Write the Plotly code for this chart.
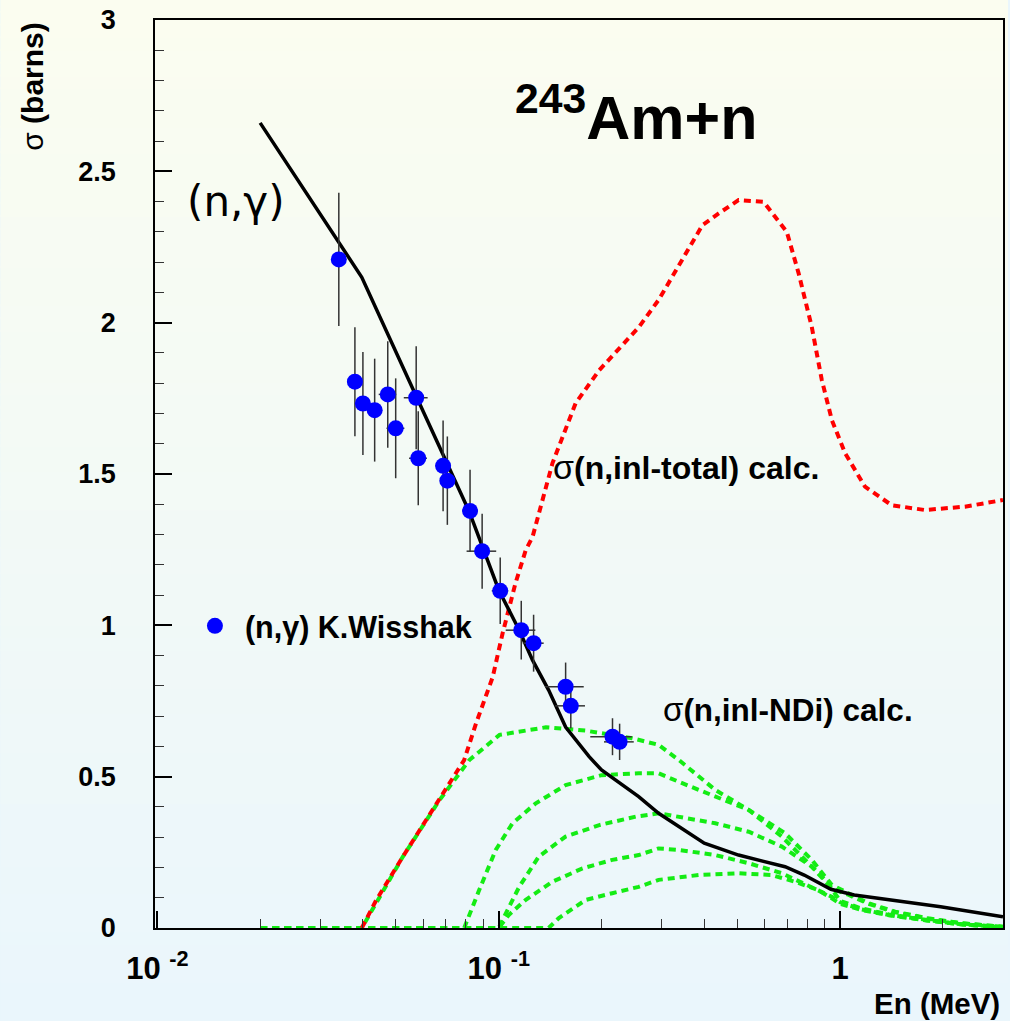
import plotly.graph_objects as go

# ---------------- data ----------------
# experimental (n,gamma) points, K.Wisshak
E_exp = [0.034, 0.0379, 0.040, 0.0433, 0.0473, 0.0499, 0.0573, 0.0581, 0.0687, 0.0707,
         0.0824, 0.0894, 0.101, 0.1164, 0.1265, 0.157, 0.1626, 0.2154, 0.226]
sig_exp = [2.209, 1.805, 1.733, 1.711, 1.763, 1.651, 1.752, 1.552, 1.527, 1.478,
           1.378, 1.245, 1.114, 0.984, 0.941, 0.797, 0.734, 0.632, 0.615]
dsig_exp = [0.22, 0.18, 0.17, 0.17, 0.176, 0.165, 0.17, 0.155, 0.15, 0.146,
            0.136, 0.124, 0.11, 0.097, 0.094, 0.08, 0.074, 0.061, 0.06]
dE_exp = [0.0017, 0.0019, 0.002, 0.0022, 0.0028, 0.003, 0.0046, 0.0035, 0.0034, 0.0035,
          0.0041, 0.0089, 0.0056, 0.0116, 0.0089, 0.0204, 0.0163, 0.030, 0.0226]

# calculated (n,gamma)
E_cap = [0.02, 0.0397, 0.0574, 0.082, 0.1, 0.1148, 0.1256, 0.14, 0.157, 0.184, 0.2,
         0.257, 0.294, 0.4, 0.504, 0.69, 0.785, 0.94, 1.1, 1.97, 3.0]
sig_cap = [2.66, 2.15, 1.755, 1.375, 1.117, 0.984, 0.885, 0.786, 0.664, 0.566, 0.522,
           0.434, 0.379, 0.28, 0.241, 0.2025, 0.175, 0.128, 0.109, 0.07, 0.037]

# calculated total inelastic
E_inl = [0.0397, 0.0438, 0.0524, 0.0718, 0.0792, 0.0858, 0.096, 0.1026, 0.112, 0.12,
         0.1256, 0.1437, 0.168, 0.197, 0.2576, 0.294, 0.345, 0.395, 0.441, 0.504,
         0.597, 0.698, 0.756, 0.826, 0.884, 0.946, 1.035, 1.183, 1.416, 1.771, 2.32, 3.0]
sig_inl = [0.0, 0.093, 0.236, 0.479, 0.555, 0.676, 0.829, 0.973, 1.14, 1.249,
           1.292, 1.536, 1.734, 1.843, 1.986, 2.075, 2.207, 2.322, 2.361, 2.405,
           2.399, 2.30, 2.163, 1.986, 1.81, 1.678, 1.568, 1.458, 1.397, 1.381, 1.392, 1.414]

# calculated inelastic to discrete levels (NDi)
E_nd1 = [0.02, 0.0397, 0.0524, 0.0671, 0.082, 0.1005, 0.1374, 0.18, 0.246, 0.294, 0.337,
         0.431, 0.54, 0.69, 0.826, 0.946, 1.057, 1.21, 1.45, 1.81, 2.27, 3.0]
sig_nd1 = [0.0, 0.0, 0.236, 0.423, 0.555, 0.638, 0.663, 0.652, 0.627, 0.605, 0.555,
           0.456, 0.39, 0.313, 0.225, 0.142, 0.115, 0.082, 0.054, 0.032, 0.016, 0.004]
E_nd2 = [0.02, 0.0792, 0.0877, 0.098, 0.1097, 0.1284, 0.157, 0.2, 0.257, 0.294, 0.337,
         0.431, 0.54, 0.675, 0.904, 1.0, 1.15, 1.39, 1.8, 2.27, 3.0]
sig_nd2 = [0.0, 0.0, 0.126, 0.258, 0.346, 0.412, 0.472, 0.505, 0.511, 0.511, 0.483,
           0.434, 0.39, 0.302, 0.159, 0.09, 0.065, 0.045, 0.025, 0.012, 0.003]
E_nd3 = [0.02, 0.1, 0.105, 0.1148, 0.131, 0.157, 0.197, 0.252, 0.294, 0.337, 0.431,
         0.54, 0.675, 0.826, 0.946, 1.057, 1.21, 1.45, 1.81, 2.27, 3.0]
sig_nd3 = [0.0, 0.0, 0.049, 0.136, 0.236, 0.302, 0.34, 0.368, 0.379, 0.368, 0.346,
           0.318, 0.269, 0.203, 0.13, 0.11, 0.08, 0.052, 0.031, 0.015, 0.004]
E_nd4 = [0.02, 0.1, 0.107, 0.12, 0.1437, 0.176, 0.215, 0.257, 0.294, 0.337, 0.431,
         0.54, 0.675, 0.946, 1.0, 1.15, 1.39, 1.8, 2.27, 3.0]
sig_nd4 = [0.0, 0.0, 0.043, 0.093, 0.153, 0.197, 0.225, 0.241, 0.263, 0.258, 0.241,
           0.214, 0.181, 0.103, 0.085, 0.062, 0.043, 0.025, 0.012, 0.003]
E_nd5 = [0.02, 0.14, 0.15, 0.18, 0.215, 0.257, 0.294, 0.385, 0.504, 0.63, 0.736,
         0.86, 0.946, 1.0, 1.15, 1.39, 1.8, 2.27, 3.0]
sig_nd5 = [0.0, 0.0, 0.033, 0.093, 0.115, 0.136, 0.159, 0.175, 0.181, 0.175, 0.153,
           0.126, 0.098, 0.08, 0.06, 0.042, 0.025, 0.012, 0.003]

x_tickvals = [0.01, 0.1, 1]
x_ticktext = ["10 <sup>-2</sup>", "10 <sup>-1</sup>", "1"]
y_tickvals = [0, 0.5, 1, 1.5, 2, 2.5, 3]
y_ticktext = ["0", "0.5", "1", "1.5", "2", "2.5", "3"]

# ---------------- figure ----------------
W, H = 1010, 1021
ML, MR, MT, MB = 155, 5, 20, 93
PW, PH = W - ML - MR, H - MT - MB
FONT = "Liberation Sans, Arial, sans-serif"

fig = go.Figure()

GREEN = "#14ec14"
for ex, sy in [(E_nd1, sig_nd1), (E_nd2, sig_nd2), (E_nd3, sig_nd3),
               (E_nd4, sig_nd4), (E_nd5, sig_nd5)]:
    fig.add_trace(go.Scatter(x=ex, y=sy, mode="lines", showlegend=False,
                             line=dict(color=GREEN, width=4, dash="7px,5px")))

fig.add_trace(go.Scatter(x=E_inl, y=sig_inl, mode="lines", showlegend=False,
                         line=dict(color="#ff0000", width=4, dash="7px,5px")))

fig.add_trace(go.Scatter(x=E_cap, y=sig_cap, mode="lines", showlegend=False,
                         line=dict(color="black", width=3.5)))

fig.add_trace(go.Scatter(
    x=E_exp, y=sig_exp, mode="markers", name="(n,γ) K.Wisshak", showlegend=True,
    marker=dict(color="#0000ff", size=16, line=dict(width=0)),
    error_y=dict(type="data", array=dsig_exp, color="#333333", thickness=1.5, width=0),
    error_x=dict(type="data", array=dE_exp, color="#333333", thickness=1.5, width=0),
))

# background gradient (light yellow top -> light cyan bottom)
top_c = (251, 253, 240)
bot_c = (234, 246, 252)
N = 80
y_lo = -MB / PH
y_hi = 1 + MT / PH
shapes = []
for i in range(N):
    t = i / (N - 1)
    c = tuple(round(bot_c[k] + (top_c[k] - bot_c[k]) * t) for k in range(3))
    y0 = y_lo + (y_hi - y_lo) * i / N
    y1 = y_lo + (y_hi - y_lo) * (i + 1) / N
    shapes.append(dict(type="rect", xref="paper", yref="paper",
                       x0=-ML / PW, x1=1 + MR / PW, y0=y0, y1=y1 + 0.002,
                       fillcolor="rgb(%d,%d,%d)" % c, line=dict(width=0),
                       layer="below"))


def px(x):
    return (x - ML) / PW


def py(y):
    return (MT + PH - y) / PH


annotations = [
    dict(text="<sup>243</sup>Am+n", x=px(514), y=py(113), xanchor="left", yanchor="middle",
         font=dict(family=FONT, size=61, color="black", weight="bold")),
    dict(text="(n,γ)", x=px(185), y=py(201), xanchor="left", yanchor="middle",
         font=dict(family="DejaVu Sans, sans-serif", size=42, color="black")),
    dict(text="<span style='font-size:34px'>σ</span><b>(n,inl-total) calc.</b>", x=px(552), y=py(467),
         xanchor="left", yanchor="middle",
         font=dict(family=FONT, size=32, color="black")),
    dict(text="<span style='font-size:33px'>σ</span><b>(n,inl-NDi) calc.</b>", x=px(662), y=py(709),
         xanchor="left", yanchor="middle",
         font=dict(family=FONT, size=31.5, color="black")),
    dict(text="σ <b>(barns)</b>", textangle=-90, x=px(32), y=py(20), xanchor="center", yanchor="top",
         font=dict(family=FONT, size=30, color="black")),
    dict(text="<b>En (MeV)</b>", x=px(1004), y=py(1003), xanchor="right", yanchor="middle",
         font=dict(family=FONT, size=29.5, color="black")),
]
for a in annotations:
    a.update(xref="paper", yref="paper", showarrow=False)

fig.update_layout(
    width=W, height=H,
    margin=dict(l=ML, r=MR, t=MT, b=MB, pad=0),
    paper_bgcolor="rgb(%d,%d,%d)" % bot_c,
    plot_bgcolor="rgba(0,0,0,0)",
    shapes=shapes,
    annotations=annotations,
    showlegend=True,
    legend=dict(x=px(185), y=py(626), xanchor="left", yanchor="middle",
                bgcolor="rgba(0,0,0,0)", borderwidth=0, itemwidth=50,
                font=dict(family=FONT, size=30.5, color="black", weight="bold")),
    xaxis=dict(type="log", range=[-2.007, 0.4772],
               tickmode="array", tickvals=x_tickvals, ticktext=x_ticktext,
               ticks="inside", ticklen=17, tickwidth=1.5, tickcolor="black",
               minor=dict(dtick="D1", ticks="inside", ticklen=9, tickwidth=1, tickcolor="#333333", showgrid=False),
               showline=True, linecolor="black", linewidth=1.5, mirror=True,
               showgrid=False, zeroline=False, ticklabelstandoff=12,
               tickfont=dict(family=FONT, size=31, color="black", weight="bold")),
    yaxis=dict(range=[0, 3], tickmode="array", tickvals=y_tickvals, ticktext=y_ticktext,
               ticks="inside", ticklen=17, tickwidth=1.5, tickcolor="black",
               minor=dict(dtick=0.1, tick0=0, ticks="inside", ticklen=9, tickwidth=1, tickcolor="#333333", showgrid=False),
               showline=True, linecolor="black", linewidth=1.5, mirror=True,
               showgrid=False, zeroline=False, ticklabelstandoff=32,
               tickfont=dict(family=FONT, size=27, color="black", weight="bold")),
)

fig.write_html("out.html", config={"displayModeBar": False},
               post_script="document.body.style.margin='0';document.body.style.overflow='hidden';")
